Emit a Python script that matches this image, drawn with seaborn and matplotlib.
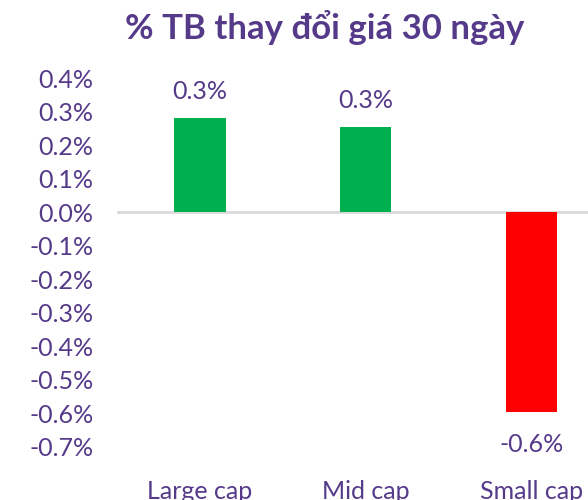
import matplotlib
matplotlib.use("Agg")
import matplotlib.pyplot as plt
import seaborn as sns
import pandas as pd
from matplotlib.ticker import FuncFormatter

categories = ["Large cap", "Mid cap", "Small cap"]
values = [0.28, 0.253, -0.595]
labels = ["0.3%", "0.3%", "-0.6%"]
colors = ["#00B050", "#00B050", "#FF0000"]

sns.set_theme(style="white")
plt.rcParams['font.family'] = ['Lato', 'DejaVu Sans']
purple = "#553A8A"
fs = 18

df = pd.DataFrame({"cat": categories, "val": values})
fig = plt.figure(figsize=(5.88, 5.0), dpi=100)
ax = fig.add_axes([0.199, 0.106, 0.801, 0.738])
sns.barplot(data=df, x="cat", y="val", hue="cat", palette=colors, legend=False,
            width=0.31, ax=ax, saturation=1, linewidth=0)
ax.set_xlim(-0.5, 2.34)
ax.set_ylim(-0.7, 0.4)
ax.set_yticks([i / 10 for i in range(-7, 5)])
ax.yaxis.set_major_formatter(FuncFormatter(lambda v, p: f"{v:.1f}%"))
for s in ax.spines.values():
    s.set_visible(False)
ax.axhline(0, color="#D9D9D9", lw=2, zorder=0)
ax.set_xlabel("")
ax.set_ylabel("")
ax.tick_params(axis="y", colors=purple, labelsize=fs, length=0, pad=17)
ax.tick_params(axis="x", colors=purple, labelsize=fs, length=0, pad=24)
for i, (v, lab) in enumerate(zip(values, labels)):
    if v >= 0:
        ax.annotate(lab, (i, v), xytext=(0, 11), textcoords="offset points",
                    ha="center", va="bottom", color=purple, fontsize=fs)
    else:
        ax.annotate(lab, (i, v), xytext=(0, -15), textcoords="offset points",
                    ha="center", va="top", color=purple, fontsize=fs)
fig.text(0.553, 0.945, "% TB thay đổi giá 30 ngày", ha="center", va="center",
         color=purple, fontsize=25, fontweight="bold")
fig.savefig("out.png", dpi=100)
